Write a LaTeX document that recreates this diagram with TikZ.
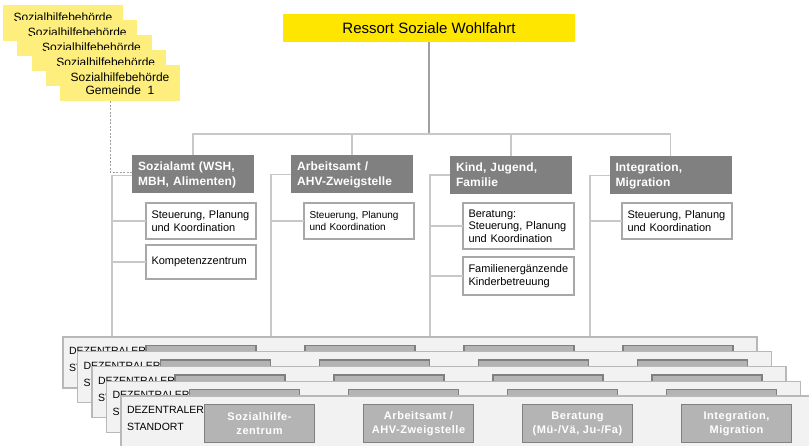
\documentclass[tikz,border=0pt]{standalone}
\usepackage{fontspec}
\setmainfont{Liberation Sans}
\newfontfamily\headfont[LetterSpace=1]{Liberation Sans}
\newfontfamily\unitfont[LetterSpace=5]{Liberation Sans}
\usetikzlibrary{calc}

\definecolor{eyyellow}{RGB}{255,230,0}
\definecolor{paleyellow}{RGB}{253,238,125}
\definecolor{headgray}{RGB}{128,128,128}
\definecolor{subborder}{RGB}{168,168,168}
\definecolor{wire}{RGB}{200,200,200}
\definecolor{wiredark}{RGB}{160,160,160}
\definecolor{sitefill}{RGB}{242,242,242}
\definecolor{siteborder}{RGB}{184,184,184}
\definecolor{unitfill}{RGB}{180,180,180}
\definecolor{unitborder}{RGB}{128,128,128}

\tikzset{
  box/.style={rectangle, inner sep=0pt, outer sep=0pt},
  ressortbox/.style={box, fill=eyyellow, minimum width=292pt, minimum height=28pt,
    font=\fontsize{15}{18}\selectfont},
  gembox/.style={box, fill=paleyellow, minimum width=120pt, minimum height=36pt,
    align=center, font=\fontsize{12}{13}\selectfont},
  gemtext/.style={box, anchor=center, yshift=-12pt, font=\fontsize{12}{13}\selectfont},
  headbox/.style={box, fill=headgray, minimum width=122pt, minimum height=38pt,
    text width=110pt, inner xsep=6pt, align=left, text=white,
    font=\headfont\bfseries\fontsize{12}{15}\selectfont},
  subbox/.style={box, draw=subborder, line width=1.8pt, fill=white,
    minimum width=110pt, text width=99pt, inner xsep=5.5pt, align=left,
    font=\fontsize{11}{12.5}\selectfont},
  wireline/.style={draw=wire, line width=1.8pt},
  dropline/.style={draw=wiredark, line width=1.8pt},
  dashline/.style={draw=wiredark, line width=0.8pt, dash pattern=on 2pt off 1.5pt},
  sitebox/.style={box, draw=siteborder, fill=sitefill, line width=1.4pt,
    minimum width=694pt, minimum height=51pt},
  sitelabel/.style={box, anchor=west, align=left, font=\fontsize{10.5}{17}\selectfont},
  backlabel/.style={box, anchor=north west, align=left, font=\fontsize{10.5}{17}\selectfont},
  unitbox/.style={box, draw=unitborder, fill=unitfill, line width=1.5pt,
    minimum width=110pt, minimum height=38pt, align=center, text=white,
    font=\unitfont\bfseries\fontsize{11}{14}\selectfont},
}

\begin{document}
\begin{tikzpicture}[x=1pt, y=-1pt]
\useasboundingbox (0,0) rectangle (809,446);

% top of the organisation
\node[ressortbox] (ressort) at (429,28) {Ressort Soziale Wohlfahrt};

% municipal welfare authorities, stacked
\node[gembox, label={[gemtext]north:Sozialhilfebehörde}] (g1) at (63,23) {};
\node[gembox, label={[gemtext]north:Sozialhilfebehörde}] (g2) at (77.25,38) {};
\node[gembox, label={[gemtext]north:Sozialhilfebehörde}] (g3) at (91.5,53) {};
\node[gembox, label={[gemtext]north:Sozialhilfebehörde}] (g4) at (105.75,68) {};
\node[gembox] (g5) at (120,83.5) {Sozialhilfebehörde\\Gemeinde\ \ 1};

% departments
\node[headbox] (soz)   at (193,174.5)   {Sozialamt (WSH,\\MBH, Alimenten)};
\node[headbox] (arb)   at (352,174.5)   {Arbeitsamt /\\AHV-Zweigstelle};
\node[headbox] (kind)  at (511,175)     {Kind, Jugend,\\Familie};
\node[headbox] (integ) at (670.5,175.5) {Integration,\\Migration};

% units below the departments
\node[subbox, minimum height=36pt] (s1) at (201,221) {Steuerung, Planung\\und Koordination};
\node[subbox, minimum height=34pt] (s2) at (201,262) {Kompetenzzentrum};
\node[subbox, minimum height=36pt, font=\fontsize{10}{12}\selectfont] (a1) at (359,221)
  {Steuerung, Planung\\und Koordination};
\node[subbox, minimum height=46pt, text width=100pt] (k1) at (518.5,226)
  {Beratung:\\Steuerung, Planung\\und Koordination};
\node[subbox, minimum height=38pt, text width=100pt] (k2) at (518.5,276)
  {Familienergänzende\\Kinderbetreuung};
\node[subbox, minimum height=36pt] (i1) at (677,221) {Steuerung, Planung\\und Koordination};

% bus from the top box to the departments
\coordinate (bus) at (429,134);
\draw[dropline] (ressort.south) -- (bus);
\draw[wireline] (soz.north) |- (bus);
\draw[wireline] (arb.north) |- (bus);
\draw[wireline] (kind.north) |- (bus);
\draw[wireline] (integ.north) |- (bus);

% spines on the left of each department, running down to the sites
\coordinate (sozfoot)   at (112,338);
\coordinate (arbfoot)   at (271,338);
\coordinate (kindfoot)  at (430,338);
\coordinate (integfoot) at (590,338);
\draw[wireline] ([yshift=-1pt]soz.west) -| (sozfoot);
\draw[wireline] (s1.west) -- (s1.west -| sozfoot);
\draw[wireline] (s2.west) -- (s2.west -| sozfoot);
\draw[wireline] (arb.west) -| (arbfoot);
\draw[wireline] (a1.west) -- (a1.west -| arbfoot);
\draw[wireline] (kind.west) -| (kindfoot);
\draw[wireline] (k1.west) -- (k1.west -| kindfoot);
\draw[wireline] (k2.west) -- (k2.west -| kindfoot);
\draw[wireline] (integ.west) -| (integfoot);
\draw[wireline] (i1.west) -- (i1.west -| integfoot);

% dashed link from the municipalities to the welfare office
\coordinate (gdrop) at ($(g5.south west)+(50,0)$);
\draw[dashline] (gdrop) |- ([yshift=2pt]soz.west);

% decentralised sites, stacked back to front
\foreach \k in {0,...,3} {
  \pgfmathsetmacro\L{63+14.5*\k}
  \pgfmathsetmacro\T{337+14.75*\k}
  \node[sitebox] (p\k) at (\L+347,\T+25.5) {};
  \node[sitelabel] (p\k-lab) at (\L+6,\T+22.5) {DEZENTRALER\\ST};
  \node[unitbox] (p\k-u1) at (\L+138,\T+27.5) {};
  \node[unitbox] (p\k-u2) at (\L+297,\T+27.5) {};
  \node[unitbox] (p\k-u3) at (\L+456,\T+27.5) {};
  \node[unitbox] (p\k-u4) at (\L+615,\T+27.5) {};
}
\node[sitebox] (p4) at (468,421.5) {};
\node[sitelabel] (p4-lab) at (127,418.5) {DEZENTRALER\\STANDORT};
\node[unitbox] (p4-u1) at (259.5,423.5) {Sozialhilfe-\\zentrum};
\node[unitbox] (p4-u2) at (418.5,423.5) {Arbeitsamt /\\AHV-Zweigstelle};
\node[unitbox] (p4-u3) at (577.5,423.5) {Beratung\\(Mü-/Vä, Ju-/Fa)};
\node[unitbox] (p4-u4) at (736.5,423.5) {Integration,\\Migration};

\end{tikzpicture}
\end{document}
